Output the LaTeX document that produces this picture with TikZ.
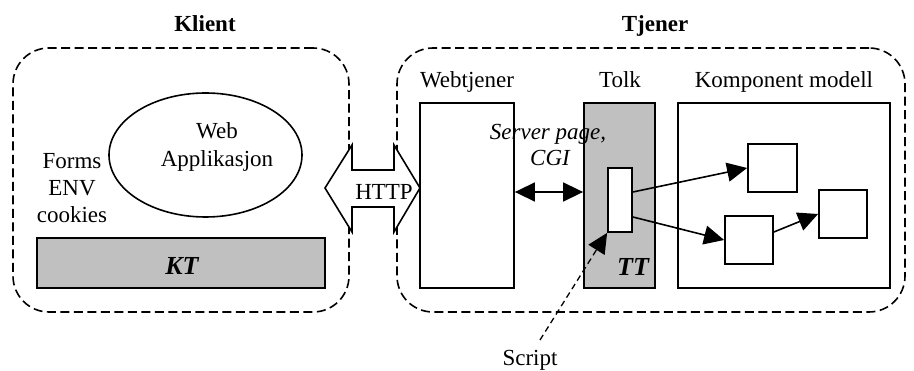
\documentclass[tikz,border=0pt]{standalone}
\usepackage{fontspec}
\setmainfont{Liberation Serif}
\usetikzlibrary{arrows.meta,calc,shapes.geometric}
\definecolor{shade}{RGB}{192,192,192}
\tikzset{
  every node/.style={font=\fontsize{23}{27.5}\selectfont},
  zone/.style={draw, dashed, dash pattern=on 9pt off 4.5pt, line width=1.6pt,
    rounded corners=36pt, inner sep=0pt},
  blockbox/.style={draw, line width=1.8pt, inner sep=0pt},
  greybox/.style={blockbox, fill=shade},
  lbl/.style={anchor=base, inner sep=0pt},
  tag/.style={lbl, font=\fontsize{26}{30}\selectfont\bfseries\itshape},
  flow/.style={line width=1.6pt, -{Triangle[length=20pt,width=19pt]}},
  twoway/.style={line width=1.6pt, {Triangle[length=20pt,width=19pt]}-{Triangle[length=20pt,width=19pt]}},
}
\begin{document}
\begin{tikzpicture}[x=1pt,y=-1pt]
\useasboundingbox (0,0) rectangle (914,371);

% client and server zones
\node[zone, minimum width=336pt, minimum height=264pt] (klientzone) at (181,180) {};
\node[zone, minimum width=508pt, minimum height=264pt] (tjenerzone) at (651,180) {};
\node[lbl, font=\fontsize{23}{27.5}\selectfont\bfseries] (klient) at (205,32) {Klient};
\node[lbl, font=\fontsize{23}{27.5}\selectfont\bfseries] (tjener) at (655,32) {Tjener};

% client side
\node[draw, ellipse, line width=1.6pt, minimum width=193pt, minimum height=124pt, inner sep=0pt] (app) at (205.5,155) {};
\node[lbl] (web) at (217,139) {Web};
\node[lbl] (applik) at (217,167) {Applikasjon};
\node[lbl] (forms) at (72,169) {Forms};
\node[lbl] (env) at (72,196) {ENV};
\node[lbl] (cookies) at (72,223) {cookies};
\node[greybox, minimum width=288pt, minimum height=50pt] (kt) at (181,263) {};
\node[tag] (ktlbl) at (182,275) {KT};

% HTTP double block arrow
\draw[line width=1.6pt, fill=white]
  (325,188) -- (352,145) -- (352,170) -- (394,170) -- (394,145) -- (420,188)
  -- (394,232) -- (394,207) -- (352,207) -- (352,232) -- cycle;
\node[lbl] (http) at (384,200) {HTTP};

% server side
\node[lbl] (webtjlbl) at (467,88) {Webtjener};
\node[lbl] (tolklbl) at (620,88) {Tolk};
\node[lbl] (komplbl) at (784,88) {Komponent modell};
\node[blockbox, minimum width=94pt, minimum height=185pt] (webtj) at (467,195.5) {};
\node[greybox, minimum width=71pt, minimum height=185pt] (tolk) at (619.5,195.5) {};
\node[blockbox, minimum width=212pt, minimum height=185pt] (komp) at (784,195.5) {};
\node[tag] (tt) at (633,276) {TT};
\node[blockbox, fill=white, minimum width=24pt, minimum height=64pt] (sb) at (620,200) {};
\node[blockbox, minimum width=49pt, minimum height=48pt] (c1) at (772.5,168) {};
\node[blockbox, minimum width=48pt, minimum height=48pt] (c2) at (749,240) {};
\node[blockbox, minimum width=48pt, minimum height=48pt] (c3) at (843,214) {};

\node[lbl, font=\fontsize{23}{27.5}\selectfont\itshape] (sp) at (548,140) {Server page,};
\node[lbl, font=\fontsize{23}{27.5}\selectfont\itshape] (cgi) at (550,166) {CGI};

\draw[twoway] ($(webtj.east)+(0,-3.5)$) -- ($(tolk.west)+(0,-3.5)$);
\draw[flow] ($(sb.east)+(0,-8)$) -- (c1.west);
\draw[flow] ($(sb.east)+(0,17)$) -- (c2.west);
\draw[flow] ($(c2.east)+(0,-8)$) -- (c3.west);

% script pointer
\node[lbl] (script) at (530,366) {Script};
\coordinate (scriptstart) at (540,340);
\draw[flow, line width=1.3pt, dash pattern=on 6pt off 4pt] (scriptstart) -- (sb.south west);
\end{tikzpicture}
\end{document}
